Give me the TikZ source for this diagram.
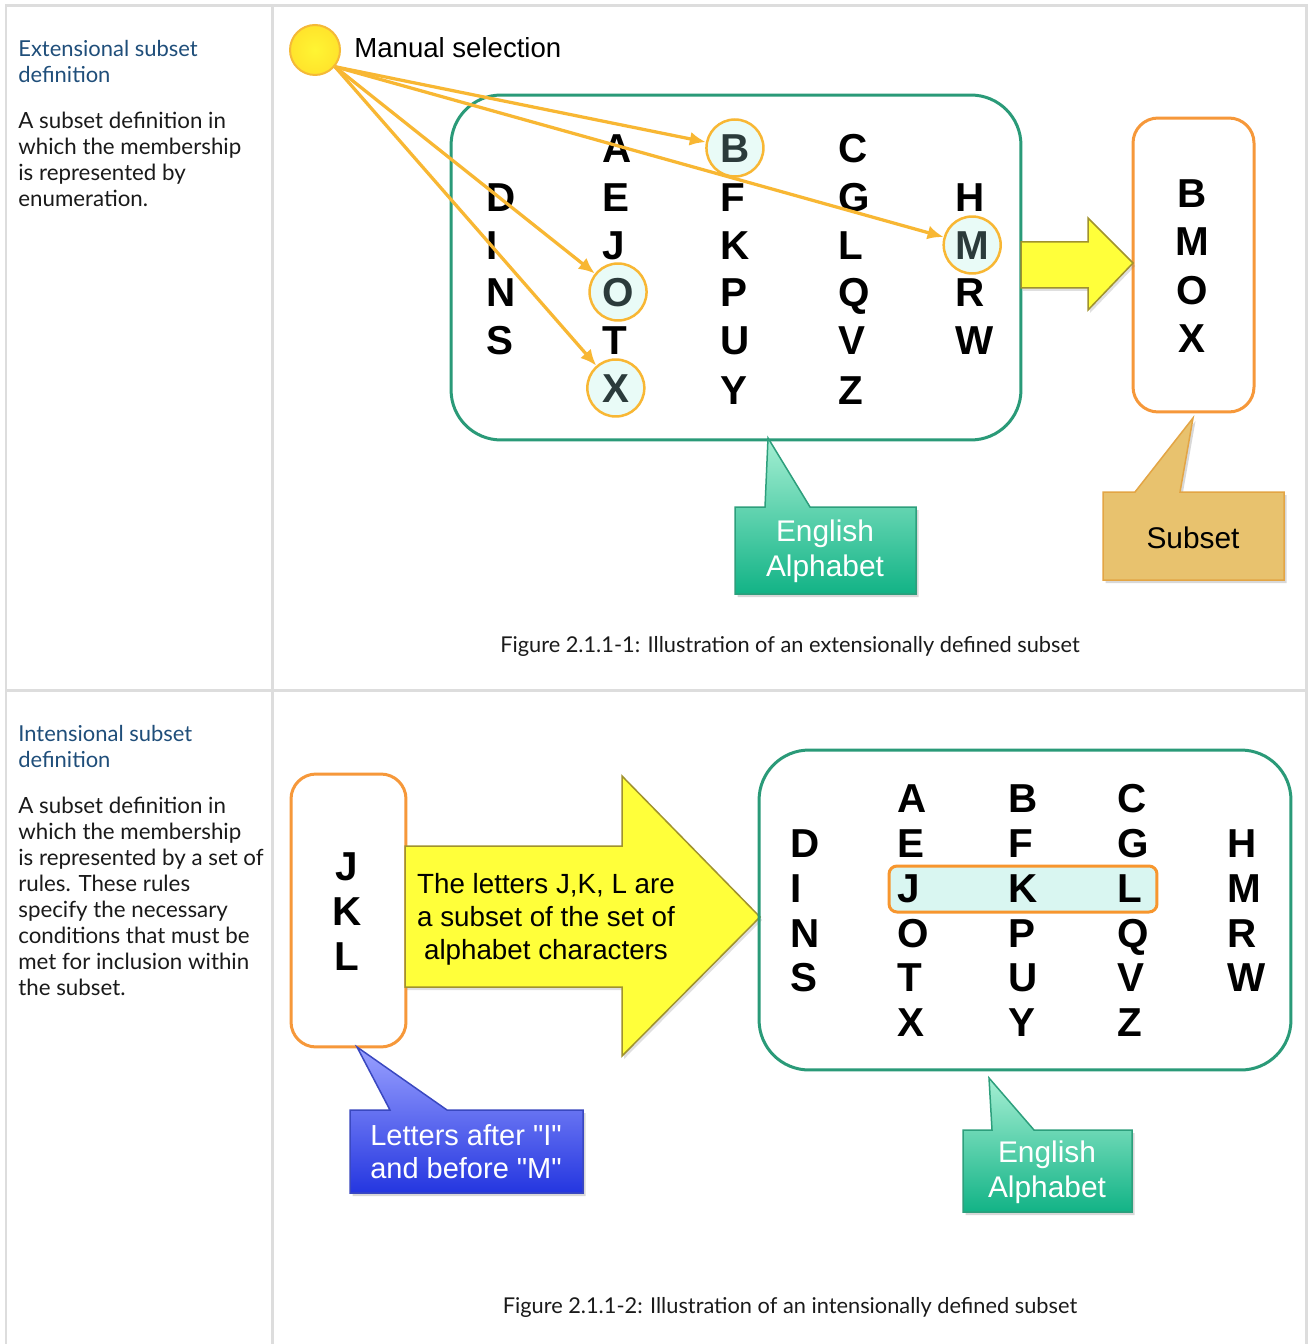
\documentclass[tikz,border=0pt]{standalone}
\usepackage{fontspec}
\setmainfont{Lato}
\newfontfamily\diagfont{Liberation Sans}
\usepackage{tikz}
\usetikzlibrary{positioning}
\usetikzlibrary{calc}
\usetikzlibrary{arrows.meta}
\usetikzlibrary{shadows}

\definecolor{gridgray}{HTML}{DDDDDD}
\definecolor{headblue}{HTML}{1F4E7A}
\definecolor{bodytext}{HTML}{1A1A1A}
\definecolor{setgreen}{HTML}{2A9A78}
\definecolor{suborange}{HTML}{F6983A}
\definecolor{pickgold}{HTML}{F8B734}
\definecolor{pickfill}{HTML}{E9FBF7}
\definecolor{pickletter}{HTML}{2B3B3B}
\definecolor{arrowgold}{HTML}{F8B733}
\definecolor{selyellow}{HTML}{FFF533}
\definecolor{selrim}{HTML}{F5B937}
\definecolor{blockyellow}{HTML}{FFFF3A}
\definecolor{blockedge}{HTML}{A0922E}
\definecolor{bandfill}{HTML}{D9F6F1}
\definecolor{bandrim}{HTML}{F7962E}
\definecolor{mintlight}{HTML}{A5EFD3}
\definecolor{mintdark}{HTML}{12B386}
\definecolor{mintrim}{HTML}{2D9F7C}
\definecolor{tanfill}{HTML}{E8C26E}
\definecolor{tanrim}{HTML}{E3A545}
\definecolor{bluelight}{HTML}{9AA1FF}
\definecolor{bluedark}{HTML}{2436E0}
\definecolor{bluerim}{HTML}{3A48C0}

\begin{document}
\begin{tikzpicture}[
		x=0.02cm, y=-0.02cm,
		gridline/.style={draw=gridgray, line width=0.06cm},
		heading/.style={anchor=north west, inner sep=0pt, align=left, text=headblue, font=\fontsize{12.5}{14.8}\selectfont},
		body/.style={anchor=north west, inner sep=0pt, align=left, text=bodytext, font=\fontsize{12.7}{14.8}\selectfont},
		caption/.style={inner sep=0pt, text=bodytext, font=\fontsize{12.4}{14}\selectfont},
		letter/.style={anchor=west, inner sep=0pt, text height=16.5pt, text depth=0pt, font=\diagfont\bfseries\fontsize{23}{23}\selectfont},
		pick/.style={circle, draw=pickgold, line width=0.05cm, fill=pickfill, minimum size=1.14cm, inner sep=0pt, text=pickletter, text height=16.5pt, text depth=0pt, font=\diagfont\bfseries\fontsize{23}{23}\selectfont},
		selnode/.style={circle, inner color=selyellow, outer color=selyellow!85!orange, draw=selrim, line width=0.04cm, minimum size=1cm, inner sep=0pt},
		setbox/.style={draw=setgreen, line width=0.06cm, rounded corners=1cm, inner sep=0pt},
		subbox/.style={draw=suborange, line width=0.06cm, fill=white, rounded corners=0.5cm, inner sep=0pt},
		band/.style={draw=bandrim, line width=0.06cm, fill=bandfill, rounded corners=0.16cm, inner sep=0pt},
		selarrow/.style={draw=arrowgold, line width=0.065cm, -{Latex[length=0.32cm, width=0.28cm]}},
		blockarrow/.style={fill=blockyellow, draw=blockedge, line width=0.03cm, drop shadow={opacity=0.25, shadow xshift=0.04cm, shadow yshift=-0.06cm}},
		callgreen/.style={top color=mintlight, bottom color=mintdark, draw=mintrim, line width=0.03cm, drop shadow={opacity=0.3, shadow xshift=0.05cm, shadow yshift=-0.06cm}},
		calltan/.style={fill=tanfill, draw=tanrim, line width=0.03cm, drop shadow={opacity=0.3, shadow xshift=0.05cm, shadow yshift=-0.06cm}},
		callblue/.style={top color=bluelight, bottom color=bluedark, draw=bluerim, line width=0.03cm, drop shadow={opacity=0.3, shadow xshift=0.05cm, shadow yshift=-0.06cm}},
		calltext/.style={align=center, inner sep=0pt, text=white, font=\diagfont\fontsize{17}{20}\selectfont},
		ruletext/.style={align=center, inner sep=0pt, font=\diagfont\fontsize{15.8}{18.8}\selectfont}
		]
		\useasboundingbox (0,0) rectangle (1309,1344);
		\fill[white] (0,0) rectangle (1309,1344);
		\draw[gridline] (6,1344) -- (6,6) -- (1306,6) -- (1306,1344);
		\draw[gridline] (6,690) -- (1306,690);
		\draw[gridline] (272,6) -- (272,1344);
		
		\node[heading] (exthead) at (18,40) {Extensional subset\\definition};
		\node[body] (extbody) at (18,112) {A subset definition in\\which the membership\\is represented by\\enumeration.};
		\node[heading] (inthead) at (18,725) {Intensional subset\\definition};
		\node[body] (intbody) at (18,797) {A subset definition in\\which the membership\\is represented by a set of\\rules. These rules\\specify the necessary\\conditions that must be\\met for inclusion within\\the subset.};
		
		\node[setbox, minimum width=11.4cm, minimum height=6.9cm] (alpha) at (736,267.5) {};
		\foreach \l/\x/\y in {A/602/148, B/720/148, C/838/148,
			D/486/197, E/602/197, F/720/197, G/838/197, H/955/197,
			I/486/245, J/602/245, K/720/245, L/838/245, M/955/245,
			N/486/292, O/602/292, P/720/292, Q/838/292, R/955/292,
			S/486/340, T/602/340, U/720/340, V/838/340, W/955/340,
			X/602/388, Y/720/390, Z/838/390}
			\node[letter] (t\l) at (\x,\y) {\l};
		\node[pick] (cB) at (tB) {B};
		\node[pick] (cM) at (tM) {M};
		\node[pick] (cO) at (tO) {O};
		\node[pick] (cX) at (tX) {X};
		
		\node[selnode] (sel) at (315,50) {};
		\node[anchor=west, inner sep=0pt, font=\diagfont\fontsize{15.7}{18}\selectfont] (seltext) at (354,48) {Manual selection};
		\draw[selarrow] (sel.-40) -- (cB);
		\draw[selarrow] (sel.-40) -- (cM);
		\draw[selarrow] (sel.-40) -- (cO);
		\draw[selarrow] (sel.-40) -- (cX);
		
		\node[subbox, minimum width=2.42cm, minimum height=5.88cm] (subset) at (1193.5,265) {};
		\foreach \l/\y in {B/193, M/241, O/290, X/338}
			\node[letter, anchor=center] (s\l) at (1192,\y) {\l};
		\draw[blockarrow] (1021,242) -- (1088,242) -- (1088,218) -- (1133,263) -- (1088,310) -- (1088,288) -- (1021,288) -- cycle;
		
		\path[callgreen] (735,507) -- (765,507) -- (768,438) -- (810,507) -- (916,507) -- (916,594) -- (735,594) -- cycle;
		\node[calltext] (engA) at (825,551) {English\\Alphabet};
		\path[calltan] (1103,492) -- (1135,492) -- (1193,418) -- (1180,492) -- (1284,492) -- (1284,580) -- (1103,580) -- cycle;
		\node[calltext, text=black] (subtag) at (1193,538) {Subset};
		
		\node[caption] (cap1) at (790,646) {Figure 2.1.1-1: Illustration of an extensionally defined subset};
		
		\node[subbox, minimum width=2.3cm, minimum height=5.46cm] (jkl) at (348.5,910.5) {};
		\foreach \l/\y in {J/866, K/911, L/956}
			\node[letter, anchor=center] (j\l) at (347,\y) {\l};
		\draw[blockarrow] (405,846) -- (622,846) -- (622,776) -- (760,917) -- (622,1056) -- (622,987) -- (405,987) -- cycle;
		\node[ruletext] (rule) at (546,919) {The letters J,K, L are\\a subset of the set of\\alphabet characters};
		
		\node[setbox, minimum width=10.64cm, minimum height=6.4cm] (alphb) at (1025,910) {};
		\node[band, minimum width=5.36cm, minimum height=0.92cm] (jklband) at (1023,889) {};
		\foreach \l/\x/\y in {A/897/798, B/1008/798, C/1117/798,
			D/790/843, E/897/843, F/1008/843, G/1117/843, H/1227/843,
			I/790/888, J/897/888, K/1008/888, L/1117/888, M/1227/888,
			N/790/933, O/897/933, P/1008/933, Q/1117/933, R/1227/933,
			S/790/977, T/897/977, U/1008/977, V/1117/977, W/1227/977,
			X/897/1022, Y/1008/1022, Z/1117/1022}
			\node[letter] (b\l) at (\x,\y) {\l};
		
		\path[callblue] (350,1110) -- (390,1110) -- (357,1047) -- (447,1110) -- (583,1110) -- (583,1193) -- (350,1193) -- cycle;
		\node[calltext, font=\diagfont\fontsize{16.5}{18.8}\selectfont] (aftertag) at (466,1152) {Letters after "I"\\and before "M"};
		\path[callgreen] (963,1130) -- (992,1130) -- (989,1078) -- (1034,1130) -- (1132,1130) -- (1132,1212) -- (963,1212) -- cycle;
		\node[calltext] (engB) at (1047,1172) {English\\Alphabet};
		
		\node[caption] (cap2) at (790,1307) {Figure 2.1.1-2: Illustration of an intensionally defined subset};
	\end{tikzpicture}
\end{document}
